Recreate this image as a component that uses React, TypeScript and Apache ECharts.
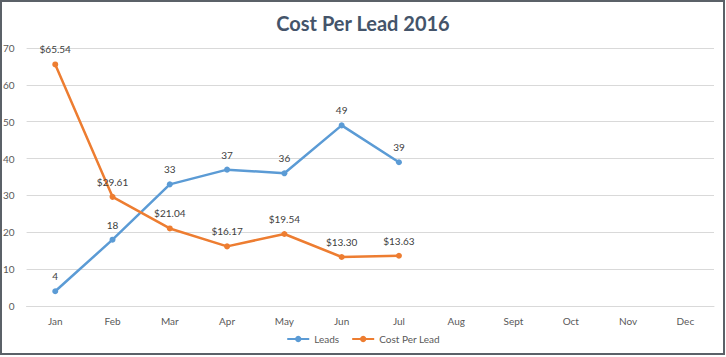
import React, { useEffect, useRef } from "react";
import * as echarts from "echarts";

const categories = ["Jan", "Feb", "Mar", "Apr", "May", "Jun", "Jul", "Aug", "Sept", "Oct", "Nov", "Dec"];
const leads = [4, 18, 33, 37, 36, 49, 39];
const costPerLead = [65.54, 29.61, 21.04, 16.17, 19.54, 13.3, 13.63];
const yTicks = { min: 0, max: 70, interval: 10 };

export default function App() {
  const ref = useRef<HTMLDivElement>(null);
  useEffect(() => {
    document.body.style.margin = "0";
    const chart = echarts.init(ref.current!, null, { renderer: "svg" });
    const font = "Lato, 'Open Sans', sans-serif";
    chart.setOption({
      animation: false,
      backgroundColor: "#ffffff",
      textStyle: { fontFamily: font },
      title: {
        text: "Cost Per Lead 2016",
        left: "center",
        top: 8,
        textStyle: { fontFamily: font, fontSize: 20, fontWeight: "bold", color: "#44546A" },
      },
      graphic: [
        {
          type: "rect",
          shape: { x: 1, y: 1, width: 723, height: 353 },
          style: { fill: "none", stroke: "#5b6168", lineWidth: 2 },
          silent: true,
        },
      ],
      legend: {
        bottom: 8,
        left: "center",
        itemWidth: 22,
        itemHeight: 8,
        itemGap: 12,
        textStyle: { fontFamily: font, fontSize: 10, color: "#595959" },
        data: ["Leads", "Cost Per Lead"],
      },
      grid: { left: 26, right: 12, top: 48, bottom: 51, containLabel: false },
      xAxis: {
        type: "category",
        data: categories,
        boundaryGap: true,
        axisLine: { show: true, lineStyle: { color: "#d9d9d9" } },
        axisTick: { show: false },
        axisLabel: { color: "#595959", fontSize: 10, margin: 10, fontFamily: font },
      },
      yAxis: {
        type: "value",
        min: yTicks.min,
        max: yTicks.max,
        interval: yTicks.interval,
        axisLine: { show: false },
        axisTick: { show: false },
        axisLabel: { color: "#595959", fontSize: 10, margin: 12, fontFamily: font },
        splitLine: { lineStyle: { color: "#d9d9d9", width: 1 } },
      },
      series: [
        {
          name: "Leads",
          type: "line",
          data: leads,
          symbol: "circle",
          symbolSize: 6,
          itemStyle: { color: "#5B9BD5" },
          lineStyle: { color: "#5B9BD5", width: 2.5 },
          label: { show: true, position: "top", distance: 7, color: "#404040", fontSize: 10, fontFamily: font },
        },
        {
          name: "Cost Per Lead",
          type: "line",
          data: costPerLead,
          symbol: "circle",
          symbolSize: 6,
          itemStyle: { color: "#ED7D31" },
          lineStyle: { color: "#ED7D31", width: 2.5 },
          label: {
            show: true,
            position: "top",
            distance: 7,
            color: "#404040",
            fontSize: 10,
            fontFamily: font,
            formatter: (p: any) => "$" + Number(p.value).toFixed(2),
          },
        },
      ],
    });
    return () => chart.dispose();
  }, []);
  return <div ref={ref} style={{ width: 726, height: 357, position: "absolute", left: 0, top: 0 }} />;
}
